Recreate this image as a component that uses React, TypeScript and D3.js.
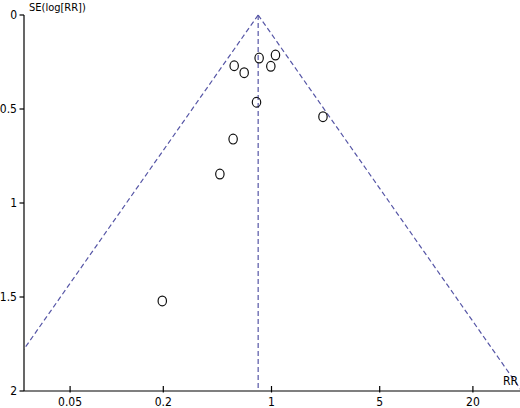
import { useEffect, useRef } from "react";
import * as d3 from "d3";

// study estimates
const studyRR = [0.574, 0.666, 0.832, 1.061, 0.99, 0.8, 2.15, 0.565, 0.464, 0.197];
const studySE = [0.27, 0.307, 0.229, 0.213, 0.273, 0.464, 0.541, 0.66, 0.846, 1.521];
const pooledRR = 0.82;

const xTicks = [0.05, 0.2, 1, 5, 20];
const xTickLabels = ["0.05", "0.2", "1", "5", "20"];
const yTicks = [0, 0.5, 1, 1.5, 2];
const yTickLabels = ["0", "0.5", "1", "1.5", "2"];

const seLimits = [0, 2];

export default function App() {
  const svgRef = useRef<SVGSVGElement | null>(null);
  const width = 520;
  const height = 408;

  useEffect(() => {
    if (!svgRef.current) return;
    const svg = d3.select(svgRef.current);
    svg.selectAll("*").remove();

    const font = "'DejaVu Sans Condensed', 'Liberation Sans Narrow', sans-serif";
    const x = d3.scaleLog().domain([0.025, 40]).range([23.5, 519.5]);
    const y = d3.scaleLinear().domain([0, 2]).range([15, 391]);
    const lineColor = "#5656a6";

    svg.append("defs").append("clipPath").attr("id", "plot-clip")
      .append("rect")
      .attr("x", 24).attr("y", 0)
      .attr("width", width - 24).attr("height", 391);

    const plot = svg.append("g").attr("clip-path", "url(#plot-clip)");

    // 95% pseudo-confidence limits
    const line = d3.line<[number, number]>()
      .x(d => x(d[0]))
      .y(d => y(d[1]));
    const sides = [-1, 1];
    sides.forEach(s => {
      const pts: [number, number][] = seLimits.map(se => [pooledRR * Math.exp(s * 1.96 * se), se]);
      plot.append("path")
        .attr("d", line(pts))
        .attr("fill", "none")
        .attr("stroke", lineColor)
        .attr("stroke-width", 1.2)
        .attr("stroke-dasharray", "5,3");
    });

    // pooled estimate
    plot.append("line")
      .attr("x1", x(pooledRR)).attr("x2", x(pooledRR))
      .attr("y1", y(0)).attr("y2", y(2))
      .attr("stroke", lineColor)
      .attr("stroke-width", 1.2)
      .attr("stroke-dasharray", "5,3");

    // studies
    plot.selectAll("ellipse")
      .data(studyRR.map((rr, i) => ({ rr, se: studySE[i] })))
      .enter()
      .append("ellipse")
      .attr("cx", d => x(d.rr))
      .attr("cy", d => y(d.se))
      .attr("rx", 4.2)
      .attr("ry", 4.9)
      .attr("fill", "none")
      .attr("stroke", "#111")
      .attr("stroke-width", 1.2);

    // y axis
    const axisG = svg.append("g").attr("stroke", "#000").attr("stroke-width", 1.2);
    axisG.append("line")
      .attr("x1", 24).attr("x2", 24)
      .attr("y1", y(0)).attr("y2", y(2));
    yTicks.forEach(t => {
      axisG.append("line")
        .attr("x1", 19.5).attr("x2", 24)
        .attr("y1", y(t)).attr("y2", y(t));
    });
    svg.selectAll(".ylab")
      .data(yTicks)
      .enter()
      .append("text")
      .attr("class", "ylab")
      .attr("x", 17)
      .attr("y", d => y(d) + 4)
      .attr("text-anchor", "end")
      .style("font-family", font)
      .style("font-size", "12px")
      .text((_, i) => yTickLabels[i]);

    // x axis
    axisG.append("line")
      .attr("x1", 24).attr("x2", width)
      .attr("y1", y(2)).attr("y2", y(2));
    xTicks.forEach(t => {
      axisG.append("line")
        .attr("x1", x(t)).attr("x2", x(t))
        .attr("y1", y(2) - 5).attr("y2", y(2) + 1.5);
    });
    svg.selectAll(".xlab")
      .data(xTicks)
      .enter()
      .append("text")
      .attr("class", "xlab")
      .attr("x", d => x(d))
      .attr("y", 406)
      .attr("text-anchor", "middle")
      .style("font-family", font)
      .style("font-size", "12px")
      .text((_, i) => xTickLabels[i]);

    svg.append("text")
      .attr("x", 29).attr("y", 11)
      .style("font-family", font)
      .style("font-size", "11px")
      .text("SE(log[RR])");

    svg.append("text")
      .attr("x", 518).attr("y", 385)
      .attr("text-anchor", "end")
      .style("font-family", font)
      .style("font-size", "12px")
      .text("RR");
  }, []);

  return (
    <svg
      ref={svgRef}
      width={width}
      height={height}
      style={{ position: "absolute", left: 0, top: 0, background: "#fff" }}
    />
  );
}
